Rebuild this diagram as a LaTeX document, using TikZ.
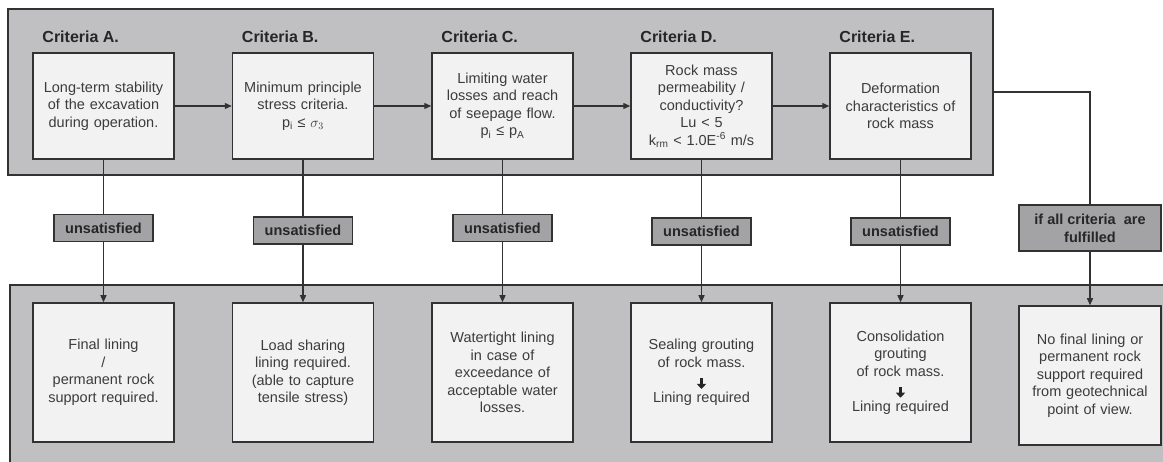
\documentclass[tikz,border=0pt]{standalone}
\usepackage{fontspec}
\setmainfont{Liberation Sans}
\usetikzlibrary{positioning,arrows.meta}

\definecolor{panelgray}{RGB}{192,192,194}
\definecolor{boxfill}{RGB}{242,242,242}
\definecolor{tagfill}{RGB}{163,163,166}
\definecolor{edgegray}{RGB}{50,50,50}
\definecolor{textgray}{RGB}{60,60,60}

% thick down arrow inside the result boxes
\newcommand{\thendown}{\tikz[baseline=-3pt]\draw[line width=2.2pt, draw=black!85,
    -{Triangle[length=5pt,width=9pt]}] (0pt,4pt) -- (0pt,-7pt);}

\tikzset{
    critbox/.style={draw=edgegray, line width=1.5pt, fill=boxfill,
        minimum width=141pt, minimum height=106pt, text width=136pt,
        align=center, inner sep=0pt, text=textgray,
        font=\fontsize{14.5}{17.5}\selectfont},
    resbox/.style={critbox, minimum height=139pt},
    tag/.style={draw=edgegray, line width=1.5pt, fill=tagfill,
        minimum width=99pt, minimum height=27pt, inner sep=0pt,
        align=center, text=black!85,
        font=\bfseries\fontsize{14.5}{18}\selectfont},
    crittitle/.style={anchor=base west, inner sep=0pt, text=black!85,
        font=\bfseries\fontsize{16}{18}\selectfont},
    link/.style={line width=1.3pt, draw=edgegray},
    flow/.style={link, -{Triangle[length=7pt,width=6pt]}},
}

\begin{document}
\begin{tikzpicture}[x=1pt,y=-1pt]
    \useasboundingbox (0,0) rectangle (1163,462);

    % panels
    \node[draw=edgegray, line width=1.5pt, fill=panelgray,
        minimum width=985pt, minimum height=166pt, inner sep=0pt]
        (toppanel) at (500.5,92) {};
    \fill[panelgray] (10,285) rectangle (1163,462);
    \draw[edgegray, line width=1.5pt] (10,462) -- (10,285) -- (1163,285);

    % criteria
    \node[critbox] (critA) at (103.5,106) {Long-term stability\\ of the excavation\\ during operation.};
    \node[critbox] (critB) at (303,106) {Minimum principle\\ stress criteria.\\ p\textsubscript{i} ≤ $\sigma_3$};
    \node[critbox] (critC) at (502.5,106) {Limiting water\\ losses and reach\\ of seepage flow.\\ p\textsubscript{i} ≤ p\textsubscript{A}};
    \node[critbox] (critD) at (701.5,106) {Rock mass\\ permeability /\\ conductivity?\\ Lu < 5\\ k\textsubscript{rm} < 1.0E\textsuperscript{-6} m/s};
    \node[critbox] (critE) at (900.5,106) {Deformation\\ characteristics of\\ rock mass};

    \foreach \c in {A,B,C,D,E}
        \node[crittitle] at ([xshift=10pt,yshift=10pt]crit\c.north west) {Criteria \c.};

    % results
    \node[resbox] (resA) at (103.5,372.5) {Final lining\\ /\\ permanent rock\\ support required.};
    \node[resbox] (resB) at (303,372.5) {Load sharing\\ lining required.\\ (able to capture\\ tensile stress)};
    \node[resbox] (resC) at (502.5,372.5) {Watertight lining\\ in case of\\ exceedance of\\ acceptable water\\ losses.};
    \node[resbox] (resD) at (701.5,372.5) {Sealing grouting\\ of rock mass.\\ \thendown\\ Lining required};
    \node[resbox] (resE) at (900.5,372.5) {Consolidation\\ grouting\\ of rock mass.\\ \thendown\\ Lining required};
    \node[resbox, minimum width=142pt] (resF) at (1090,375.5) {No final lining or\\ permanent rock\\ support required\\ from geotechnical\\ point of view.};

    % connectors
    \foreach \a/\b in {A/B,B/C,C/D,D/E}
        \draw[flow] (crit\a) -- (crit\b);

    \foreach \c/\y in {A/228,B/230.5,C/228,D/231.5,E/231.5} {
        \node[tag] (unsat\c) at (crit\c |- 0,\y) {unsatisfied};
        \draw[link] (crit\c) -- (unsat\c);
        \draw[flow] (unsat\c) -- (res\c);
    }

    \node[tag, minimum width=142pt, minimum height=46pt] (fulfil) at (1090,228) {if all criteria\ \ are\\ fulfilled};
    \draw[link] (toppanel.east) -| (fulfil.north);
    \draw[flow] (fulfil) -- (resF);
\end{tikzpicture}
\end{document}
